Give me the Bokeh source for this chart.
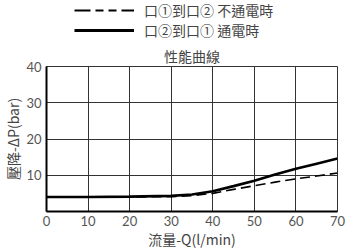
from bokeh.plotting import figure
from bokeh.layouts import column
from bokeh.models import Legend, LegendItem, FixedTicker
from bokeh.embed import file_html
from bokeh.resources import INLINE

x = [0, 10, 20, 30, 35, 40, 45, 50, 55, 60, 65, 70]
solid = [4.0, 4.0, 4.1, 4.3, 4.7, 5.6, 7.0, 8.5, 10.2, 11.8, 13.2, 14.6]
dashed = [4.0, 4.0, 4.0, 4.1, 4.4, 5.0, 6.1, 7.1, 8.1, 9.0, 9.8, 10.6]
x_ticks = [0, 10, 20, 30, 40, 50, 60, 70]
y_ticks = [10, 20, 30, 40]
label_dashed = "口①到口② 不通電時"
label_solid = "口②到口① 通電時"

FONT = "Noto Sans CJK TC"
DASH = "10 5"

# legend strip
lf = figure(width=350, height=42, x_range=(0, 1), y_range=(100, 101),
            output_backend="svg", toolbar_location=None,
            min_border=0)
lf.axis.visible = False
lf.grid.visible = False
lf.outline_line_color = None
ld = lf.line(x, dashed, line_color="black", line_width=2, line_dash="16 5 8 5 8 5 13 5")
ls = lf.line(x, solid, line_color="black", line_width=3)
legend = Legend(items=[LegendItem(label=label_dashed, renderers=[ld]),
                       LegendItem(label=label_solid, renderers=[ls])],
                location=(28, 2), orientation="vertical")
legend.glyph_width = 60
legend.glyph_height = 18
legend.label_height = 18
legend.label_text_font = FONT
legend.label_text_font_size = "14px"
legend.label_text_color = "#444444"
legend.label_standoff = 10
legend.spacing = 0
legend.padding = 0
legend.margin = 0
legend.border_line_color = None
legend.background_fill_alpha = 0
lf.add_layout(legend)

p = figure(frame_width=291, frame_height=145, x_range=(0, 70), y_range=(0, 40),
           output_backend="svg", toolbar_location=None,
           min_border_left=46, min_border_right=13, min_border_bottom=38,
           min_border_top=0, title="性能曲線")
p.title.align = "center"
p.title.text_font = FONT
p.title.text_font_size = "14px"
p.title.text_font_style = "normal"
p.title.text_color = "#444444"
p.title.standoff = 2

p.line(x, dashed, line_color="black", line_width=1.6, line_dash=DASH)
p.line(x, solid, line_color="black", line_width=2.6)

p.xaxis.ticker = FixedTicker(ticks=x_ticks)
p.yaxis.ticker = FixedTicker(ticks=y_ticks + [0])
p.yaxis.major_label_overrides = {0: ""}
for ax in (p.xaxis[0], p.yaxis[0]):
    ax.major_tick_out = 0
    ax.major_tick_in = 0
    ax.minor_tick_out = 0
    ax.minor_tick_in = 0
    ax.axis_line_color = "black"
    ax.axis_line_width = 2
    ax.major_label_text_font = "Lato"
    ax.major_label_text_font_size = "13px"
    ax.major_label_text_color = "#555555"
    ax.axis_label_text_font = FONT
    ax.axis_label_text_font_size = "14px"
    ax.axis_label_text_font_style = "normal"
    ax.axis_label_text_color = "#444444"
p.xaxis.axis_label = "流量-Q(l/min)"
p.yaxis.axis_label = "壓降-ΔP(bar)"
p.xaxis.major_label_standoff = 4
p.yaxis.major_label_standoff = 5
p.xaxis.axis_label_standoff = 0
p.yaxis.axis_label_standoff = 0

p.xgrid.ticker = FixedTicker(ticks=x_ticks)
p.ygrid.ticker = FixedTicker(ticks=y_ticks)
p.grid.grid_line_color = "#333333"
p.grid.grid_line_width = 1
p.outline_line_color = "#333333"
p.outline_line_width = 1

layout = column(lf, p, spacing=0)
open("out.html", "w").write(file_html(layout, INLINE))
